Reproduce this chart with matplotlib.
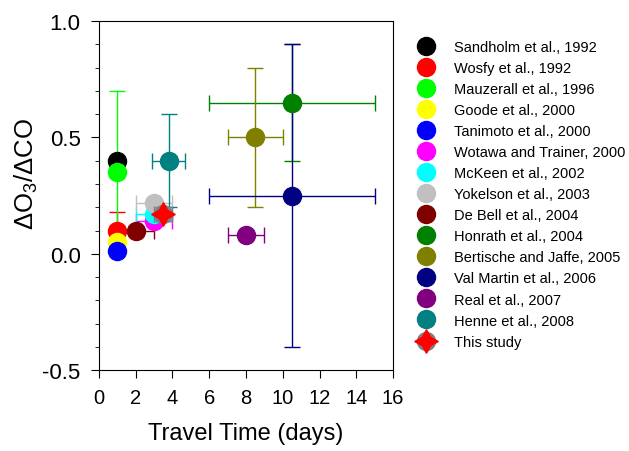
import matplotlib.pyplot as plt
from matplotlib.lines import Line2D
from matplotlib.ticker import MultipleLocator

plt.rcParams['font.family'] = ['Liberation Sans', 'DejaVu Sans']
plt.rcParams['mathtext.fontset'] = 'custom'
plt.rcParams['mathtext.rm'] = 'Liberation Sans'
plt.rcParams['axes.unicode_minus'] = False

# データ
studies = ['Sandholm et al., 1992', 'Wosfy et al., 1992', 'Mauzerall et al., 1996',
           'Goode et al., 2000', 'Tanimoto et al., 2000', 'Wotawa and Trainer, 2000',
           'McKeen et al., 2002', 'Yokelson et al., 2003', 'De Bell et al., 2004',
           'Honrath et al., 2004', 'Bertische and Jaffe, 2005', 'Val Martin et al., 2006',
           'Real et al., 2007', 'Henne et al., 2008']
travel = [1, 1, 1, 1, 1, 3, 3, 3, 2, 10.5, 8.5, 10.5, 8, 3.8]
ratio = [0.40, 0.10, 0.35, 0.05, 0.01, 0.14, 0.17, 0.22, 0.10, 0.65, 0.50, 0.25, 0.08, 0.40]
x_err = [0, 0, 0, 0, 0, 1, 1, 1, 1, 4.5, 1.5, 4.5, 1, 0.9]
y_err = [0, 0.08, 0.35, 0, 0, 0, 0, 0, 0, 0.25, 0.30, 0.65, 0, 0.20]
colors = ['black', 'red', '#00ff00', 'yellow', 'blue', 'magenta', 'cyan', 'silver',
          'maroon', 'green', 'olive', 'navy', 'purple', 'teal']

# this study
this_x = 3.5
this_y = 0.17
this_xerr = 0.5
this_yerr = 0.03

fig = plt.figure(figsize=(6.29, 4.52), dpi=100)
ax = fig.add_axes([0.157, 0.179, 0.468, 0.772])

for i in range(len(studies)):
    ax.errorbar(travel[i], ratio[i],
                xerr=x_err[i] if x_err[i] > 0 else None,
                yerr=y_err[i] if y_err[i] > 0 else None,
                fmt='o', color=colors[i], ecolor=colors[i], markersize=13,
                elinewidth=1, capsize=6, capthick=1, zorder=3)

ax.errorbar(this_x, this_y, xerr=this_xerr, yerr=this_yerr, fmt='o', color='gray',
            markersize=13, elinewidth=1, capsize=6, capthick=1, zorder=4)
ax.plot(this_x, this_y, marker=(4, 1, 0), color='red', markersize=17, linestyle='none', zorder=5)

ax.set_xlim(0, 16)
ax.set_ylim(-0.5, 1.0)
ax.xaxis.set_major_locator(MultipleLocator(2))
ax.yaxis.set_major_locator(MultipleLocator(0.5))
ax.yaxis.set_minor_locator(MultipleLocator(0.1))
ax.yaxis.set_major_formatter(plt.FormatStrFormatter('%.1f'))
ax.tick_params(which='major', direction='out', length=6)
ax.tick_params(axis='x', which='major', labelsize=14.5, pad=7)
ax.tick_params(axis='y', which='major', labelsize=16, pad=7)
ax.tick_params(which='minor', direction='out', length=3)
ax.set_xlabel('Travel Time (days)', fontsize=17, labelpad=11)
ax.set_ylabel('ΔO$_3$/ΔCO', fontsize=18.5)
ax.yaxis.set_label_coords(-0.198, 0.565)

# 凡例
handles = []
for i in range(len(studies)):
    handles.append(Line2D([], [], marker='o', color=colors[i], linestyle='none', markersize=13))
gray_dot = Line2D([], [], marker='o', color='gray', linestyle='none', markersize=13)
star = Line2D([], [], marker=(4, 1, 0), color='red', linestyle='none', markersize=17)
handles.append((gray_dot, star))
labels = studies + ['This study']
ax.legend(handles, labels, loc='upper left', bbox_to_anchor=(0.654, 0.923),
          bbox_transform=fig.transFigure, frameon=False, fontsize=10.5,
          handlelength=1.2, handletextpad=1.32, labelspacing=0.485, borderaxespad=0)

plt.savefig('out.png', dpi=100)
